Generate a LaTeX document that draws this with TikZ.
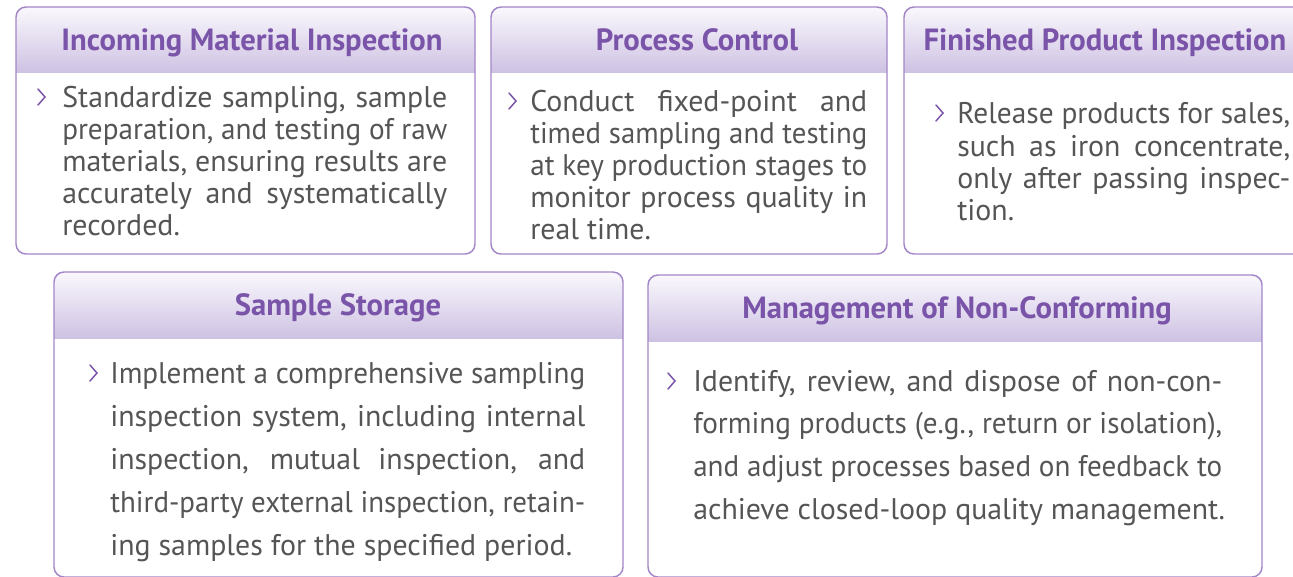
\documentclass[tikz,border=0pt]{standalone}
\usepackage{fontspec}
\usepackage{graphicx}
\setmainfont{PT Sans}
\definecolor{bordc}{RGB}{162,134,200}
\definecolor{titlec}{RGB}{122,84,168}
\definecolor{hdtop}{RGB}{250,248,253}
\definecolor{hdbot}{RGB}{206,194,227}
\definecolor{bodytxt}{RGB}{85,85,85}
\newlength\lnw
\newcommand\jline[2]{\settowidth\lnw{#2}\ifdim\lnw>#1\relax\resizebox{#1}{\height}{#2}\else\makebox[#1][s]{#2}\fi}
\newcommand\lastline[2]{\makebox[#1][l]{#2}}
\newcommand\mycard[5]{%
  \begin{scope}
    \clip[rounded corners=7.5pt] (#1,#2) rectangle (#3,#4);
    \shade[top color=hdtop,bottom color=hdbot] (#1,#2) rectangle (#3,#5);
  \end{scope}
  \draw[cardborder] (#1,#2) rectangle (#3,#4);}
\tikzset{
  cardborder/.style={draw=bordc,line width=1.1pt,rounded corners=7.5pt},
  title/.style={anchor=base,inner sep=0pt,text=titlec,font=\fontsize{23pt}{27pt}\selectfont\bfseries},
  body/.style={anchor=base west,inner sep=0pt,text=bodytxt,font=\fontsize{22.4pt}{26pt}\selectfont},
  chev/.style={draw=titlec,line width=1.1pt,line cap=round,line join=miter}
}
\begin{document}
\begin{tikzpicture}[x=0.75pt,y=-0.75pt]
\clip (0,0) rectangle (1293,576);
\fill[white] (0,0) rectangle (1293,576);

% cards
\mycard{16}{7}{475}{254}{72}
\mycard{491}{7}{887}{254}{72}
\mycard{904}{7}{1306}{254}{72}
\mycard{54}{272}{623}{577}{338}
\mycard{648}{275}{1262}{577}{341}

% titles
\node[title] (h1) at (252,50) {Incoming Material Inspection};
\node[title] (h2) at (697,50) {Process Control};
\node[title] (h3) at (1105,50) {Finished Product Inspection};
\node[title] (h4) at (338,315) {Sample Storage};
\node[title] (h5) at (957,318) {Management of Non-Conforming};

% chevrons
\draw[chev] (38,89) -- (45,97) -- (38,105);
\draw[chev] (509,93) -- (516,101) -- (509,109);
\draw[chev] (936,105) -- (943,113) -- (936,121);
\draw[chev] (90,365) -- (97,373) -- (90,381);
\draw[chev] (668,373) -- (675,381) -- (668,389);

% box 1
\node[body] (a1) at (62,107) {\jline{288.75pt}{Standardize sampling, sample}};
\node[body] (a2) at (62,139) {\jline{288.75pt}{preparation, and testing of raw}};
\node[body] (a3) at (62,171) {\jline{288.75pt}{materials, ensuring results are}};
\node[body] (a4) at (62,203) {\jline{288.75pt}{accurately and systematically}};
\node[body] (a5) at (62,235) {\lastline{288.75pt}{recorded.}};

% box 2
\node[body] (b1) at (530,111) {\jline{252.75pt}{Conduct fixed-point and}};
\node[body] (b2) at (530,143) {\jline{252.75pt}{timed sampling and testing}};
\node[body] (b3) at (530,175) {\jline{252.75pt}{at key production stages to}};
\node[body] (b4) at (530,207) {\jline{252.75pt}{monitor process quality in}};
\node[body] (b5) at (530,239) {\lastline{252.75pt}{real time.}};

% box 3
\node[body] (c1) at (957,123) {\jline{249.75pt}{Release products for sales,}};
\node[body] (c2) at (957,156) {\jline{249.75pt}{such as iron concentrate,}};
\node[body] (c3) at (957,188) {\jline{249.75pt}{only after passing inspec-}};
\node[body] (c4) at (957,220) {\lastline{249.75pt}{tion.}};

% box 4
\node[body] (d1) at (110,383) {\jline{356.25pt}{Implement a comprehensive sampling}};
\node[body] (d2) at (110,426) {\jline{356.25pt}{inspection system, including internal}};
\node[body] (d3) at (110,469) {\jline{356.25pt}{inspection, mutual inspection, and}};
\node[body] (d4) at (110,512) {\jline{356.25pt}{third-party external inspection, retain-}};
\node[body] (d5) at (110,555) {\lastline{356.25pt}{ing samples for the specified period.}};

% box 5
\node[body] (e1) at (693,391) {\jline{396.75pt}{Identify, review, and dispose of non-con-}};
\node[body] (e2) at (693,433) {\jline{396.75pt}{forming products (e.g., return or isolation),}};
\node[body] (e3) at (693,476) {\jline{396.75pt}{and adjust processes based on feedback to}};
\node[body] (e4) at (693,519) {\lastline{396.75pt}{achieve closed-loop quality management.}};
\end{tikzpicture}
\end{document}
